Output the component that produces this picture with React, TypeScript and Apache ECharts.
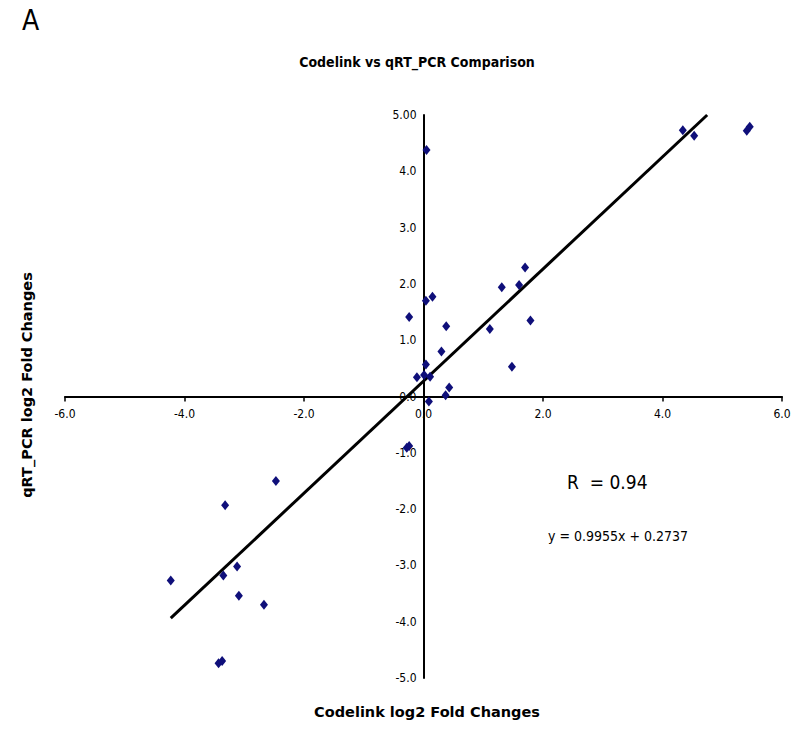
import React, { useEffect, useRef } from "react";
import * as echarts from "echarts";

// Codelink log2 fold change (x) vs qRT_PCR log2 fold change (y)
const codelinkX: number[] = [
  4.34, 4.53, 5.41, 5.46, 0.05,
  -0.24, 0.04, 0.15, 0.38, 0.3, 0.04, -0.11, 0.01, 0.11, 0.43, 0.37, 0.09,
  1.11, 1.31, 1.6, 1.7, 1.79, 1.48,
  -0.28, -0.24,
  -2.47, -3.32, -3.12, -3.35, -4.23, -3.09, -2.67, -3.43, -3.37,
];
const qpcrY: number[] = [
  4.73, 4.63, 4.72, 4.79, 4.38,
  1.41, 1.7, 1.77, 1.25, 0.8, 0.57, 0.34, 0.38, 0.35, 0.16, 0.02, -0.09,
  1.2, 1.94, 1.98, 2.29, 1.35, 0.53,
  -0.91, -0.88,
  -1.5, -1.93, -3.02, -3.18, -3.27, -3.54, -3.7, -4.74, -4.7,
];

const slope = 0.9955;
const intercept = 0.2737;
const rValue = "0.94";

const xTicks = { min: -6, max: 6, interval: 2 };
const yTicks = { min: -5, max: 5, interval: 1 };

const NARROW = "'Liberation Sans Narrow', 'Arial Narrow', 'DejaVu Sans Condensed', sans-serif";
const BOLD_TITLE = "'DejaVu Sans', Verdana, sans-serif";

const W = 800;
const H = 730;
const GRID = { left: 65, right: 18, top: 115, bottom: 52 };

export default function App() {
  const ref = useRef<HTMLDivElement>(null);
  useEffect(() => {
    if (!ref.current) return;
    const chart = echarts.init(ref.current, undefined, { renderer: "svg" });
    const points = codelinkX.map((x, i) => [x, qpcrY[i]]);
    const xStart = Math.min(...codelinkX);
    const xEnd = (yTicks.max - intercept) / slope;
    const trend = [
      [xStart, slope * xStart + intercept],
      [xEnd, slope * xEnd + intercept],
    ];
    const gw = W - GRID.left - GRID.right;
    const gh = H - GRID.top - GRID.bottom;
    // distance of the zero lines from the grid's bottom / left edges
    const xAxisOffset = -gh * ((0 - yTicks.min) / (yTicks.max - yTicks.min));
    const yAxisOffset = -gw * ((0 - xTicks.min) / (xTicks.max - xTicks.min));
    chart.setOption({
      animation: false,
      backgroundColor: "#ffffff",
      grid: { ...GRID, containLabel: false, outerBoundsMode: "none" },
      title: {
        text: "Codelink vs qRT_PCR Comparison",
        left: 412,
        textAlign: "center",
        top: 50,
        textStyle: { fontFamily: NARROW, fontSize: 14, fontWeight: "bold", color: "#000" },
      },
      xAxis: {
        type: "value",
        min: xTicks.min,
        max: xTicks.max,
        interval: xTicks.interval,
        position: "bottom",
        offset: xAxisOffset,
        axisLine: { onZero: false, lineStyle: { color: "#000", width: 2 } },
        axisTick: { show: true, length: 5, lineStyle: { color: "#000", width: 1.5 } },
        axisLabel: {
          margin: 11,
          fontFamily: NARROW,
          fontSize: 12,
          color: "#000",
          formatter: (v: number) => v.toFixed(1),
        },
        splitLine: { show: false },
      },
      yAxis: {
        type: "value",
        min: yTicks.min,
        max: yTicks.max,
        interval: yTicks.interval,
        position: "left",
        offset: yAxisOffset,
        axisLine: { onZero: false, lineStyle: { color: "#000", width: 2 } },
        axisTick: { show: false },
        axisLabel: {
          margin: 7,
          fontFamily: NARROW,
          fontSize: 12,
          color: "#000",
          formatter: (v: number) => (v === yTicks.max ? v.toFixed(2) : v.toFixed(1)),
        },
        splitLine: { show: false },
      },
      series: [
        {
          type: "line",
          data: trend,
          showSymbol: false,
          symbol: "none",
          lineStyle: { color: "#000", width: 3 },
          z: 2,
          silent: true,
        },
        {
          type: "scatter",
          data: points,
          symbol: "diamond",
          symbolSize: [8, 10],
          itemStyle: { color: "#0f0f7a", opacity: 1 },
          z: 3,
        },
      ],
      graphic: [
        {
          type: "text",
          left: 22,
          top: 6,
          style: { text: "A", font: `normal 28px ${NARROW}`, fill: "#000" },
        },
        {
          type: "text",
          x: 27,
          y: 385,
          rotation: Math.PI / 2,
          style: {
            text: "qRT_PCR log2 Fold Changes",
            font: `bold 14.5px ${BOLD_TITLE}`,
            fill: "#000",
            align: "center",
            verticalAlign: "middle",
          },
        },
        {
          type: "text",
          x: 427,
          y: 712,
          style: {
            text: "Codelink log2 Fold Changes",
            font: `bold 14.5px ${BOLD_TITLE}`,
            fill: "#000",
            align: "center",
            verticalAlign: "middle",
          },
        },
        {
          type: "text",
          x: 567,
          y: 482,
          style: {
            text: `R  = ${rValue}`,
            font: `normal 19px ${NARROW}`,
            fill: "#000",
            align: "left",
            verticalAlign: "middle",
          },
        },
        {
          type: "text",
          x: 548,
          y: 536,
          style: {
            text: `y = ${slope}x + ${intercept}`,
            font: `normal 14px ${NARROW}`,
            fill: "#000",
            align: "left",
            verticalAlign: "middle",
          },
        },
      ],
    });
    return () => chart.dispose();
  }, []);
  return (
    <div
      ref={ref}
      style={{ position: "fixed", left: 0, top: 0, width: W, height: H, background: "#fff" }}
    />
  );
}
